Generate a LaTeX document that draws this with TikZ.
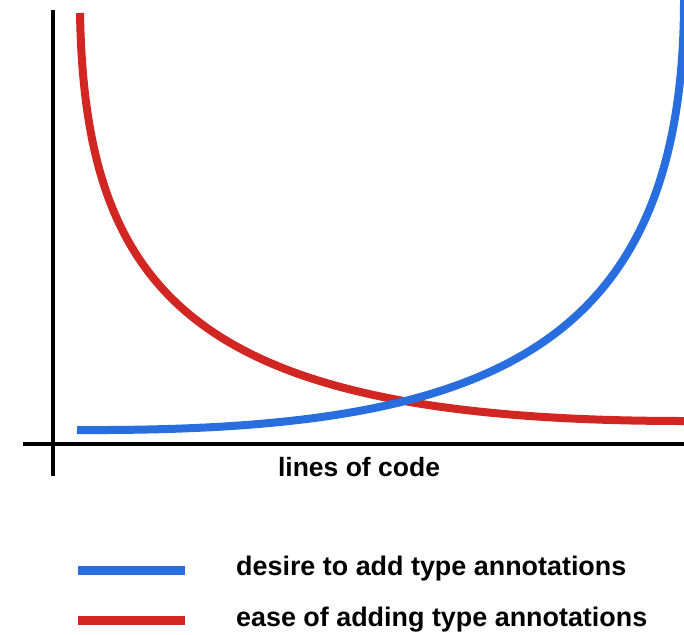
\documentclass[tikz,border=0pt]{standalone}
\usepackage{fontspec}
\setmainfont{Liberation Sans}
\usepackage{tikz}
\usetikzlibrary{positioning}
\definecolor{desireblue}{RGB}{40,110,222}
\definecolor{easered}{RGB}{210,38,34}
\tikzset{
	axisline/.style={line width=3.5pt,black},
	curveline/.style={line width=8pt},
	legendline/.style={line width=9pt},
	labeltext/.style={font=\fontsize{26.5}{30}\selectfont\bfseries,inner sep=0pt},
	legendtext/.style={labeltext,font=\fontsize{26.9}{30}\selectfont\bfseries,anchor=west}
}

\begin{document}
\begin{tikzpicture}[x=1pt,y=-1pt]
		% canvas of the reference picture
		\useasboundingbox (0,0) rectangle (684,634);
		
		% axes
		\coordinate (ytop) at (53,10);
		\coordinate (ybot) at (53,476);
		\coordinate (xleft) at (23,444);
		\coordinate (xright) at (684,444);
		\draw[axisline] (ybot) -- (ytop);
		\draw[axisline] (xleft) -- (xright);
		
		% ease of adding type annotations (falls off)
		\draw[curveline,easered] (80,13) .. controls (85,300) and (200,421) .. (684,421);
		
		% desire to add type annotations (blows up)
		\draw[curveline,desireblue] (77,430) .. controls (475,432) and (684,360) .. (684,0);
		
		% axis label
		\node[labeltext] (xlabel) at (359,467) {lines of code};
		
		% legend
		\coordinate (desirea) at (78,570);
		\coordinate (desireb) at (185,570);
		\coordinate (easea) at (78,620);
		\coordinate (easeb) at (185,620);
		\draw[legendline,desireblue] (desirea) -- (desireb);
		\draw[legendline,easered] (easea) -- (easeb);
		\node[legendtext] (desiretext) at (236,569) {desire to add type annotations};
		\node[legendtext] (easetext) at (236,620) {ease of adding type annotations};
	\end{tikzpicture}
\end{document}
